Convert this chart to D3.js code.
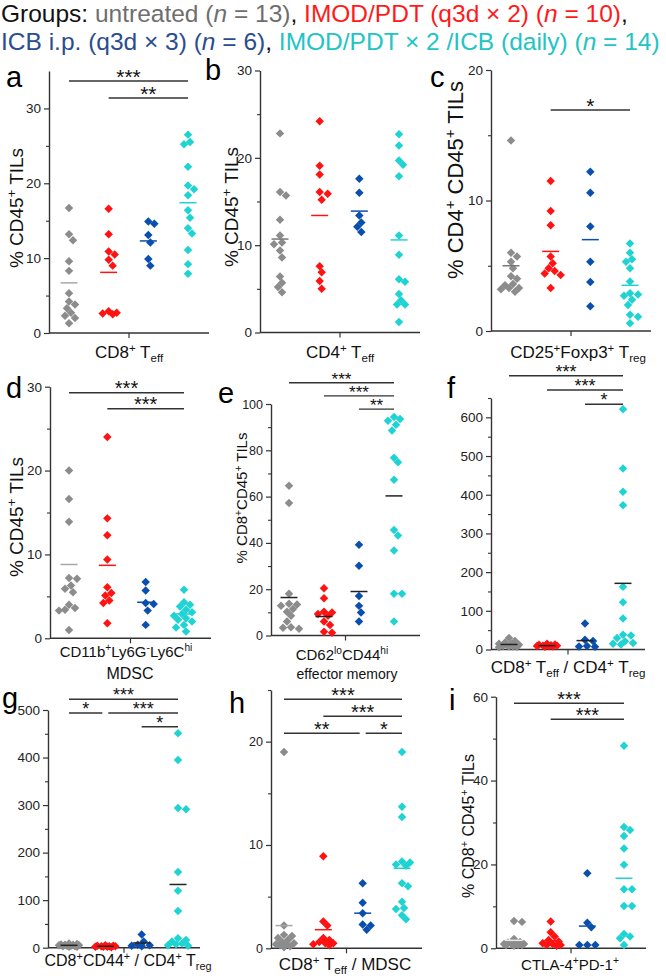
<!DOCTYPE html>
<html><head><meta charset="utf-8">
<script src="https://cdn.jsdelivr.net/npm/d3@7"></script>
<style>body{margin:0;background:#fff}svg{display:block}text{white-space:pre}</style>
</head><body><svg id="c" width="666" height="980"></svg>
<script>
// ---------------- DATA ----------------
const groupNames = ["untreated", "IMOD/PDT", "ICB", "IMOD/PDT/ICB"];

const aVals = [
  [16.7, 13.2, 12.4, 9.6, 8.3, 5.3, 4.2, 3.8, 3.3, 2.7, 2.3, 2.0, 1.3],
  [16.6, 13.2, 10.9, 10.5, 9.8, 9.0, 2.9, 2.7, 2.6, 2.5],
  [14.9, 14.6, 13.1, 12.1, 9.9, 9.0],
  [26.5, 25.5, 25.2, 22.2, 19.7, 19.2, 18.4, 16.4, 15.4, 14.0, 13.3, 11.1, 9.2, 7.9]];
const aMeans = [6.7, 8.1, 12.3, 17.4];

const bVals = [
  [22.8, 16.1, 15.7, 12.9, 11.1, 10.3, 10.1, 9.4, 8.6, 6.4, 5.7, 5.2, 4.6],
  [24.2, 19.1, 18.1, 16.1, 15.9, 15.2, 7.6, 6.9, 5.9, 5.0],
  [17.6, 16.0, 13.4, 12.6, 12.1, 11.5],
  [22.7, 21.4, 19.7, 19.2, 17.9, 11.1, 8.9, 6.1, 5.8, 4.4, 3.7, 3.2, 3.2, 1.2]];
const bMeans = [10.7, 13.4, 13.9, 10.6];

const cVals = [
  [14.6, 6.0, 5.7, 5.3, 4.8, 4.2, 4.0, 3.6, 3.5, 3.3, 3.3, 3.2, 3.0],
  [11.5, 9.2, 8.1, 5.7, 5.2, 4.8, 4.6, 4.4, 4.3, 3.3],
  [12.2, 10.6, 8.0, 5.3, 3.75, 1.9],
  [6.7, 6.0, 5.5, 5.3, 4.8, 3.8, 2.9, 2.8, 2.7, 2.4, 2.0, 1.25, 1.1, 0.6]];
const cMeans = [5.0, 6.1, 7.0, 3.5];

const dVals = [
  [20.0, 16.6, 13.9, 7.2, 7.1, 6.3, 5.9, 5.5, 4.0, 3.6, 3.4, 3.3, 1.0],
  [24.0, 14.3, 12.3, 9.4, 6.1, 5.4, 5.1, 4.5, 4.2, 1.8],
  [6.7, 5.7, 4.2, 4.1, 3.3, 1.6],
  [5.8, 4.3, 4.0, 3.8, 3.4, 3.1, 2.9, 2.7, 2.4, 2.2, 2.0, 1.6, 1.3, 0.8]];
const dMeans = [8.8, 8.7, 4.3, 2.9];

const eVals = [
  [64.7, 57.2, 18.0, 13.7, 13.4, 12.9, 11.4, 10.3, 8.5, 6.0, 3.6, 3.3, 2.9],
  [20.4, 16.1, 10.3, 9.9, 9.3, 8.5, 6.0, 4.5, 1.6, 1.2],
  [39.2, 30.1, 17.1, 12.8, 9.9, 6.0],
  [94.4, 93.5, 92.8, 91.0, 88.6, 76.8, 74.8, 67.3, 45.6, 43.2, 36.7, 18.0, 18.0, 6.0]];
const eMeans = [16.4, 8.2, 19.0, 60.3];

const fVals = [
  [30, 22, 18, 15, 14, 12, 11, 10, 9, 8, 8, 7, 6],
  [15, 13, 12, 11, 10, 10, 9, 9, 8, 7],
  [67, 25, 22, 9, 8, 7],
  [621, 468, 408, 373, 162, 122, 80, 38, 36, 30, 21, 17, 15, 13]];
const fMeans = [13, 10, 23, 171];

const gVals = [
  [9, 8, 7, 6, 6, 5, 5, 4, 4, 3, 3, 2, 2],
  [5, 4, 4, 3, 3, 3, 2, 2, 2, 1],
  [28, 13, 6, 5, 4, 3],
  [451, 395, 294, 291, 159, 120, 77, 20, 16, 13, 9, 7, 5, 4]];
const gMeans = [5, 3, 10, 133];

const hVals = [
  [19.0, 2.2, 1.3, 1.2, 1.0, 0.8, 0.6, 0.5, 0.4, 0.4, 0.3, 0.2, 0.1],
  [8.9, 2.6, 2.2, 1.0, 0.8, 0.6, 0.5, 0.5, 0.4, 0.3],
  [6.3, 4.4, 3.4, 2.3, 2.2, 1.8],
  [19.0, 13.7, 12.7, 8.4, 8.3, 8.1, 8.0, 6.3, 6.0, 4.5, 3.9, 3.8, 3.2, 2.8]];
const hMeans = [2.2, 1.8, 3.4, 7.75];

const iVals = [
  [6.5, 6.3, 2.2, 1.5, 1.3, 1.2, 1.0, 1.0, 0.9, 0.8, 0.8, 0.7, 0.6],
  [6.4, 3.8, 2.8, 2.0, 1.6, 1.2, 1.0, 0.8, 0.8, 0.6],
  [17.9, 6.1, 5.0, 0.8, 0.8, 0.8],
  [48.3, 28.9, 28.2, 26.8, 23.8, 19.9, 14.1, 14.1, 10.1, 10.1, 3.4, 2.8, 2.4, 0.8]];
const iMeans = [1.9, 1.8, 5.3, 16.7];

// tick values
const aTicks = [0, 10, 20, 30], aMinor = [5, 15, 25];
const bTicks = [0, 10, 20, 30], bMinor = [5, 15, 25];
const cTicks = [0, 10, 20], cMinor = [5, 15];
const dTicks = [0, 10, 20, 30], dMinor = [5, 15, 25];
const eTicks = [0, 20, 40, 60, 80, 100], eMinor = [10, 30, 50, 70, 90];
const fTicks = [0, 100, 200, 300, 400, 500, 600], fMinor = [50, 150, 250, 350, 450, 550, 650];
const gTicks = [0, 100, 200, 300, 400, 500], gMinor = [50, 150, 250, 350, 450];
const hTicks = [0, 10, 20], hMinor = [5, 15, 25];
const iTicks = [0, 20, 40, 60], iMinor = [10, 30, 50];

// significance brackets: [fromGroup, toGroup, label, level]
const aSig = [[0, 3, "***", 0], [1, 3, "**", 1]];
const bSig = [];
const cSig = [[1, 3, "*", 0]];
const dSig = [[0, 3, "***", 0], [1, 3, "***", 1]];
const eSig = [[0, 3, "***", 0], [1, 3, "***", 1], [2, 3, "**", 2]];
const fSig = [[0, 3, "***", 0], [1, 3, "***", 1], [2, 3, "*", 2]];
const gSig = [[0, 3, "***", 0], [0, 1, "*", 1], [1, 3, "***", 1], [2, 3, "*", 2]];
const hSig = [[0, 3, "***", 0], [1, 3, "***", 1], [0, 2, "**", 2], [2, 3, "*", 2]];
const iSig = [[0, 3, "***", 0], [1, 3, "***", 1]];

// texts
const xLabels = {
  a: ["CD8^{+} T_{eff}"], b: ["CD4^{+} T_{eff}"], c: ["CD25^{+}Foxp3^{+} T_{reg}"],
  d: ["CD11b^{+}Ly6G^{-}Ly6C^{hi}", "MDSC"], e: ["CD62^{lo}CD44^{hi}", "effector memory"],
  f: ["CD8^{+} T_{eff} / CD4^{+} T_{reg}"], g: ["CD8^{+}CD44^{+} / CD4^{+} T_{reg}"],
  h: ["CD8^{+} T_{eff} / MDSC"], i: ["CTLA-4^{+}PD-1^{+}"]};
const yLabels = {
  a: "% CD45^{+} TILs", b: "% CD45^{+} TILs", c: "% CD4^{+} CD45^{+} TILs",
  d: "% CD45^{+} TILs", e: "% CD8^{+}CD45^{+} TILs", f: "", g: "", h: "",
  i: "% CD8^{+} CD45^{+} TILs"};

// ---------------- STYLE / LAYOUT ----------------
const FONT = "'Liberation Sans', Arial, Helvetica, sans-serif";
const ptColors = ["#8c8c8c", "#ff1212", "#0b4fae", "#1fd3d3"];
const grpMean = ["#a8a8a8", "#ff1212", "#0b4fae", "#1fd3d3"];
const AX = "#333";

const panels = [
  {id: "a", vals: aVals, means: aMeans, ticks: aTicks, minor: aMinor, sig: aSig, domain: [0, 35],
   ax: 49, axEnd: 209, y0: 333, y1: 71, gx: [69, 188], sigY: 81, sigStep: 17, starFs: 21, meanMode: "group",
   letter: [6, 87], ylab: [16, 208, 19], xlab: [[129, 358, 17]]},
  {id: "b", vals: bVals, means: bMeans, ticks: bTicks, minor: bMinor, sig: bSig, domain: [0, 30],
   ax: 260, axEnd: 420, y0: 332.5, y1: 70.5, gx: [280, 399], sigY: 0, sigStep: 0, starFs: 21, meanMode: "group",
   letter: [205, 80], ylab: [231, 207, 19], xlab: [[340, 358, 17]]},
  {id: "c", vals: cVals, means: cMeans, ticks: cTicks, minor: cMinor, sig: cSig, domain: [0, 20],
   ax: 491, axEnd: 651, y0: 331, y1: 70, gx: [511, 630], sigY: 110, sigStep: 0, starFs: 21, meanMode: "group",
   letter: [430, 87], ylab: [455, 180, 22], xlab: [[578, 358, 17]]},
  {id: "d", vals: dVals, means: dMeans, ticks: dTicks, minor: dMinor, sig: dSig, domain: [0, 30],
   ax: 50, axEnd: 211, y0: 638.3, y1: 386.7, gx: [69, 184], sigY: 392.7, sigStep: 16, starFs: 20, meanMode: "group",
   letter: [6, 398], ylab: [16, 517, 19], xlab: [[126, 657, 15], [130, 679, 16]]},
  {id: "e", vals: eVals, means: eMeans, ticks: eTicks, minor: eMinor, sig: eSig, domain: [0, 100],
   ax: 271, axEnd: 420, y0: 635.5, y1: 404, gx: [289, 394], sigY: 382.7, sigStep: 13.2, starFs: 17, meanMode: "black",
   letter: [218, 403], ylab: [242, 498, 15], xlab: [[342, 660, 15], [347, 679, 14]]},
  {id: "f", vals: fVals, means: fMeans, ticks: fTicks, minor: fMinor, sig: fSig, domain: [0, 650],
   ax: 491, axEnd: 645, y0: 649.5, y1: 398, gx: [509, 623], sigY: 375.7, sigStep: 14.3, starFs: 18, meanMode: "black",
   letter: [447, 398], ylab: [0, 0, 0], xlab: [[568, 673, 17]]},
  {id: "g", vals: gVals, means: gMeans, ticks: gTicks, minor: gMinor, sig: gSig, domain: [0, 500],
   ax: 48, axEnd: 200, y0: 947.7, y1: 710, gx: [69, 178], sigY: 699.3, sigStep: 13.7, starFs: 18, meanMode: "black",
   letter: [2, 708], ylab: [0, 0, 0], xlab: [[128, 966, 16]]},
  {id: "h", vals: hVals, means: hMeans, ticks: hTicks, minor: hMinor, sig: hSig, domain: [0, 25],
   ax: 271, axEnd: 422, y0: 948.3, y1: 690, gx: [284, 402], sigY: 699.3, sigStep: 17, starFs: 20, meanMode: "group",
   letter: [229, 713], ylab: [0, 0, 0], xlab: [[345, 970, 17]]},
  {id: "i", vals: iVals, means: iMeans, ticks: iTicks, minor: iMinor, sig: iSig, domain: [0, 60],
   ax: 496, axEnd: 646, y0: 948.3, y1: 696.7, gx: [514, 624], sigY: 703.3, sigStep: 16, starFs: 20, meanMode: "groupI",
   letter: [449, 710], ylab: [468, 826, 16], xlab: [[570, 970, 15]]}
];

const svg = d3.select("#c").attr("font-family", FONT);

function rich(sel, str, fs) {
  const re = /\^\{([^}]*)\}|_\{([^}]*)\}|([^\^_]+)/g;
  let m, shift = 0;
  while ((m = re.exec(str))) {
    let t, target;
    if (m[1] !== undefined) { t = m[1]; target = -0.38 * fs; }
    else if (m[2] !== undefined) { t = m[2]; target = 0.24 * fs; }
    else { t = m[3]; target = 0; }
    const ts = sel.append("tspan").text(t).attr("dy", target - shift);
    if (target !== 0) ts.attr("font-size", fs * 0.68);
    shift = target;
  }
}

// ---------------- LEGEND ----------------
const legGray = "#6e6e6e", legRed = "#ff1a1a", legBlue = "#2a4d8f", legCyan = "#22c4c4";
const legendLines = [
  [["Groups: ", "#111"], ["untreated (", legGray], ["n", legGray, 1], [" = 13)", legGray], [", ", "#111"],
   ["IMOD/PDT (q3d × 2) (", legRed], ["n", legRed, 1], [" = 10)", legRed], [",", "#111"]],
  [["ICB i.p. (q3d × 3) (", legBlue], ["n", legBlue, 1], [" = 6)", legBlue], [", ", "#111"],
   ["IMOD/PDT × 2 /ICB (daily) (", legCyan], ["n", legCyan, 1], [" = 14)", legCyan]]
];
legendLines.forEach((line, li) => {
  const t = svg.append("text").attr("x", 1).attr("y", 22 + li * 28).attr("font-size", 24.5);
  line.forEach(s => {
    const ts = t.append("tspan").text(s[0]).attr("fill", s[1]);
    if (s[2]) ts.attr("font-style", "italic");
  });
});

// ---------------- PANELS ----------------
const sym = d3.symbol().type(d3.symbolSquare).size(36);

function swarm(vals, y, cx) {
  const pts = vals.map(v => ({v, y: y(v)})).sort((a, b) => a.y - b.y);
  const placed = [];
  const cands = [0];
  for (let k = 1; k <= 5; k++) cands.push(k * 2, -k * 2);
  pts.forEach(p => {
    let best = null, bestD = -1;
    for (const dx of cands) {
      let md = Infinity;
      placed.forEach(q => { md = Math.min(md, Math.abs(q.dx - dx) + Math.abs(q.y - p.y)); });
      if (md >= 8) { best = dx; break; }
      if (md > bestD + 0.01) { bestD = md; best = dx; }
    }
    p.dx = best;
    placed.push(p);
  });
  return pts.map(p => ({v: p.v, x: cx + p.dx, y: p.y}));
}

panels.forEach(P => {
  const g = svg.append("g");
  const y = d3.scaleLinear().domain(P.domain).range([P.y0, P.y1]);
  const x = d3.scalePoint().domain(d3.range(4)).range(P.gx);

  // y axis
  const ya = g.append("g").attr("transform", `translate(${P.ax},0)`)
    .call(d3.axisLeft(y).tickValues(P.ticks).tickSize(5).tickSizeOuter(0).tickPadding(3).tickFormat(d3.format("d")));
  ya.select(".domain").attr("stroke", AX).attr("stroke-width", 1.4);
  ya.selectAll(".tick line").attr("stroke", AX).attr("stroke-width", 1.2);
  ya.selectAll(".tick text").attr("font-family", FONT).attr("font-size", P.id === "e" || P.id === "h" ? 12.5 : 13.5).attr("fill", "#222");
  const ym = g.append("g").attr("transform", `translate(${P.ax},0)`)
    .call(d3.axisLeft(y).tickValues(P.minor).tickSize(3).tickSizeOuter(0).tickFormat(""));
  ym.select(".domain").remove();
  ym.selectAll(".tick line").attr("stroke", AX).attr("stroke-width", 1.1);

  // x axis
  g.append("line").attr("x1", P.ax).attr("x2", P.axEnd).attr("y1", y(0)).attr("y2", y(0))
    .attr("stroke", AX).attr("stroke-width", 1.4);
  const xc = (P.ax + P.axEnd) / 2;
  g.append("line").attr("x1", xc).attr("x2", xc).attr("y1", y(0)).attr("y2", y(0) + 5)
    .attr("stroke", AX).attr("stroke-width", 1.2);

  // points
  P.vals.forEach((vals, gi) => {
    const pts = swarm(vals, y, x(gi));
    g.selectAll(null).data(pts).enter().append("path")
      .attr("d", sym)
      .attr("transform", d => `translate(${d.x},${d.y}) rotate(45)`)
      .attr("fill", ptColors[gi]);
  });

  // means
  P.means.forEach((m, gi) => {
    let col = P.meanMode === "black" ? "#222" : grpMean[gi];
    if (P.meanMode === "groupI" && gi === 0) col = "#e8e8e8";
    if (P.meanMode === "group" && gi === 0 && (P.id === "b" || P.id === "c")) col = "#777";
    g.append("line").attr("x1", x(gi) - 8.5).attr("x2", x(gi) + 8.5)
      .attr("y1", y(m)).attr("y2", y(m)).attr("stroke", col).attr("stroke-width", 1.5);
  });

  // significance
  P.sig.forEach(s => {
    const [a, b, lab, lev] = s;
    let x1 = x(a), x2 = x(b);
    if (P.sig.some(o => o !== s && o[3] === lev && o[1] === a)) x1 += 3;
    if (P.sig.some(o => o !== s && o[3] === lev && o[0] === b)) x2 -= 3;
    const yy = P.sigY + lev * P.sigStep;
    g.append("line").attr("x1", x1).attr("x2", x2).attr("y1", yy).attr("y2", yy)
      .attr("stroke", "#333").attr("stroke-width", 1.4);
    g.append("text").attr("x", (x1 + x2) / 2).attr("y", yy + 0.12 * P.starFs).attr("text-anchor", "middle")
      .attr("font-size", P.starFs).attr("fill", "#111").text(lab);
  });

  // panel letter
  g.append("text").attr("x", P.letter[0]).attr("y", P.letter[1]).attr("font-size", 29)
    .attr("fill", "#000").text(P.id);

  // y label
  if (yLabels[P.id]) {
    const [lx, ly, fs] = P.ylab;
    const t = g.append("text").attr("transform", `translate(${lx + fs * 0.36},${ly}) rotate(-90)`)
      .attr("text-anchor", "middle").attr("font-size", fs).attr("fill", "#111");
    rich(t, yLabels[P.id], fs);
  }
  // x label
  xLabels[P.id].forEach((s, k) => {
    const [lx, ly, fs] = P.xlab[k];
    const t = g.append("text").attr("x", lx).attr("y", ly).attr("text-anchor", "middle")
      .attr("font-size", fs).attr("fill", "#111");
    rich(t, s, fs);
  });
});
</script></body></html>
